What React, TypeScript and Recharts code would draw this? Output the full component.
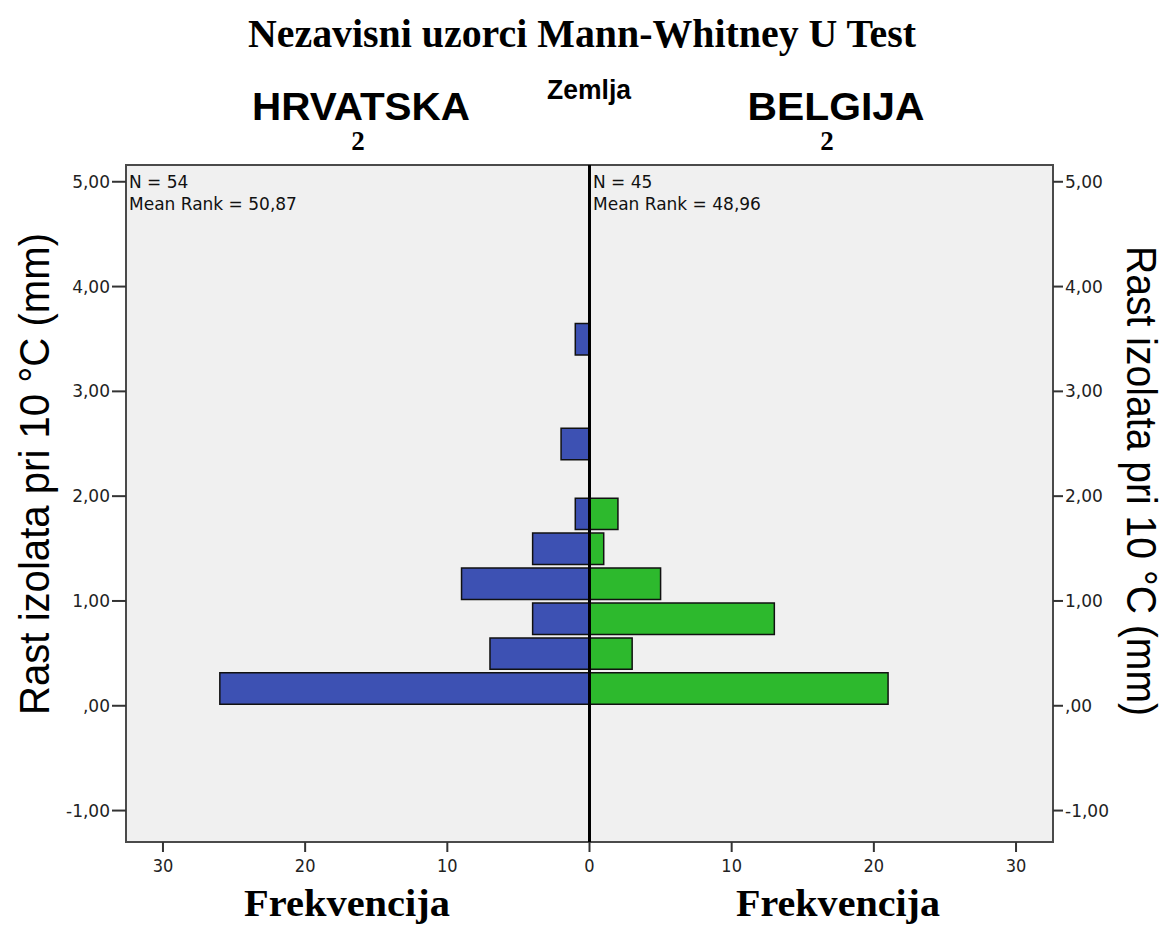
import { Bar, BarChart, CartesianGrid, ReferenceArea, ReferenceLine, XAxis, YAxis } from "recharts";

// histogram bins are 1/3 mm wide, values are the bin centres
const binMids = [0.1667, 0.5, 0.8333, 1.1667, 1.5, 1.8333, 2.1667, 2.5, 2.8333, 3.1667, 3.5];
const hrvatska = [26, 7, 4, 9, 4, 1, 0, 2, 0, 0, 1];
const belgija = [21, 3, 13, 5, 1, 2, 0, 0, 0, 0, 0];

const xTicks = [-30, -20, -10, 0, 10, 20, 30];
const yTicks = [-1, 0, 1, 2, 3, 4, 5];

const groups = ["HRVATSKA", "BELGIJA"];
const groupN = [54, 45];
const meanRanks = ["50,87", "48,96"];

const W = 1169;
const H = 929;
const X_DOMAIN: [number, number] = [-32.6, 32.6];
const Y_DOMAIN: [number, number] = [-1.3, 5.16];
const BIN = 1 / 3;
const PLOT_H = 677;

const data = binMids.map((mid, i) => ({
    mid,
    hrvatska: -hrvatska[i],
    belgija: belgija[i],
}));

const fmtY = (v: number) => (v === 0 ? ",00" : v.toFixed(2).replace(".", ","));
const tickStyle = { fill: "#222", fontSize: 17, fontFamily: "DejaVu Sans, Verdana, sans-serif" };
const serif = "'Liberation Serif', 'Times New Roman', serif";
const sans = "'Liberation Sans', Arial, sans-serif";

const App = () => {
    const barPx = (PLOT_H / (Y_DOMAIN[1] - Y_DOMAIN[0])) * BIN;
    return (
        <div style={{ position: "absolute", left: 0, top: 0, width: W, height: H, background: "#fff" }}>
            <BarChart
                width={W}
                height={H}
                data={data}
                layout="vertical"
                stackOffset="sign"
                barCategoryGap={0}
                margin={{ top: 165, right: 0, bottom: 0, left: 0 }}
            >
                <CartesianGrid fill="#f0f0f0" stroke="none" yAxisId="left" />
                <XAxis
                    type="number"
                    domain={X_DOMAIN}
                    ticks={xTicks}
                    allowDataOverflow
                    height={87}
                    tickSize={10}
                    tickMargin={7}
                    axisLine={false}
                    tickLine={{ stroke: "#333", strokeWidth: 2 }}
                    tickFormatter={(v: number) => String(Math.abs(v))}
                    tick={{ fill: "#222", fontSize: 18, fontFamily: "'DejaVu Sans Condensed', 'Liberation Sans Narrow', sans-serif" }}
                />
                <YAxis
                    yAxisId="left"
                    type="number"
                    dataKey="mid"
                    domain={Y_DOMAIN}
                    ticks={yTicks}
                    reversed
                    allowDataOverflow
                    width={126}
                    tickSize={14}
                    axisLine={false}
                    tickLine={{ stroke: "#333", strokeWidth: 2 }}
                    tickFormatter={fmtY}
                    tick={tickStyle}
                />
                <YAxis
                    yAxisId="right"
                    orientation="right"
                    type="number"
                    dataKey="mid"
                    domain={Y_DOMAIN}
                    ticks={yTicks}
                    reversed
                    allowDataOverflow
                    width={116}
                    tickSize={10}
                    axisLine={false}
                    tickLine={{ stroke: "#333", strokeWidth: 2 }}
                    tickFormatter={fmtY}
                    tick={tickStyle}
                />
                <Bar
                    yAxisId="left"
                    dataKey="hrvatska"
                    stackId="a"
                    fill="#3d51b3"
                    stroke="#111"
                    strokeWidth={1.5}
                    barSize={barPx}
                    isAnimationActive={false}
                />
                <Bar
                    yAxisId="left"
                    dataKey="belgija"
                    stackId="a"
                    fill="#2db92d"
                    stroke="#111"
                    strokeWidth={1.5}
                    barSize={barPx}
                    isAnimationActive={false}
                />
                <ReferenceArea
                    yAxisId="left"
                    x1={X_DOMAIN[0]}
                    x2={X_DOMAIN[1]}
                    y1={Y_DOMAIN[0]}
                    y2={Y_DOMAIN[1]}
                    fill="none"
                    stroke="#4a4a4a"
                    strokeWidth={2}
                />
                <ReferenceLine yAxisId="left" x={0} stroke="#000" strokeWidth={3} />
            </BarChart>

            <svg width={W} height={H} style={{ position: "absolute", left: 0, top: 0, pointerEvents: "none" }}>
                <text x={582} y={47} textAnchor="middle" fontFamily={serif} fontWeight="bold" fontSize={40}
                    textLength={668} lengthAdjust="spacingAndGlyphs">
                    Nezavisni uzorci Mann-Whitney U Test
                </text>
                <text x={589} y={99} textAnchor="middle" fontFamily={sans} fontWeight="bold" fontSize={27}
                    textLength={84} lengthAdjust="spacingAndGlyphs">
                    Zemlja
                </text>
                <text x={361} y={120} textAnchor="middle" fontFamily={sans} fontWeight="bold" fontSize={38}
                    textLength={218} lengthAdjust="spacingAndGlyphs">
                    {groups[0]}
                </text>
                <text x={836} y={120} textAnchor="middle" fontFamily={sans} fontWeight="bold" fontSize={38}
                    textLength={177} lengthAdjust="spacingAndGlyphs">
                    {groups[1]}
                </text>
                <text x={358} y={150} textAnchor="middle" fontFamily={serif} fontWeight="bold" fontSize={27}>2</text>
                <text x={827} y={150} textAnchor="middle" fontFamily={serif} fontWeight="bold" fontSize={27}>2</text>

                <g fontFamily="DejaVu Sans, Verdana, sans-serif" fontSize={17} fill="#111">
                    <text x={129} y={188}>N = {groupN[0]}</text>
                    <text x={129} y={210}>Mean Rank = {meanRanks[0]}</text>
                    <text x={593} y={188}>N = {groupN[1]}</text>
                    <text x={593} y={210}>Mean Rank = {meanRanks[1]}</text>
                </g>

                <text transform="translate(49,474) rotate(-90)" textAnchor="middle" fontFamily={sans} fontSize={42}
                    textLength={482} lengthAdjust="spacingAndGlyphs">
                    Rast izolata pri 10 °C (mm)
                </text>
                <text transform="translate(1127,481) rotate(90)" textAnchor="middle" fontFamily={sans} fontSize={42}
                    textLength={470} lengthAdjust="spacingAndGlyphs">
                    Rast izolata pri 10 °C (mm)
                </text>

                <text x={347} y={916} textAnchor="middle" fontFamily={serif} fontWeight="bold" fontSize={38}
                    textLength={206} lengthAdjust="spacingAndGlyphs">
                    Frekvencija
                </text>
                <text x={838} y={916} textAnchor="middle" fontFamily={serif} fontWeight="bold" fontSize={38}
                    textLength={204} lengthAdjust="spacingAndGlyphs">
                    Frekvencija
                </text>
            </svg>
        </div>
    );
};

export default App;
